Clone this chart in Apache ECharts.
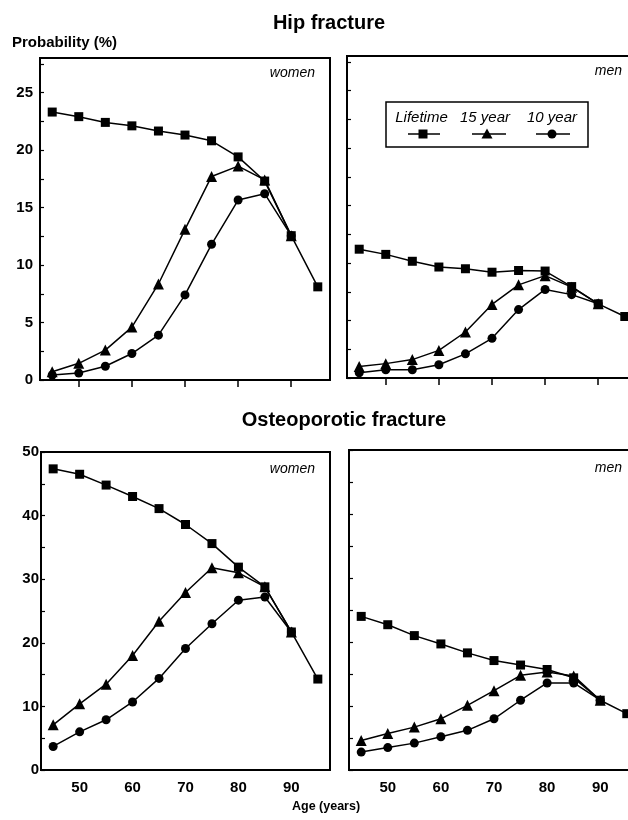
<!DOCTYPE html>
<html>
<head>
<meta charset="utf-8">
<script src="https://cdn.jsdelivr.net/npm/echarts@6/dist/echarts.min.js"></script>
<style>html,body{margin:0;padding:0;background:#fff;}#c{width:628px;height:820px;}</style>
</head>
<body>
<div id="c"></div>
<script>
// ---- data ----
const agesLifetime = [45, 50, 55, 60, 65, 70, 75, 80, 85, 90, 95];
const agesShort = [45, 50, 55, 60, 65, 70, 75, 80, 85, 90];

const hipWomenLifetime = [23.3, 22.9, 22.4, 22.1, 21.65, 21.3, 20.8, 19.4, 17.3, 12.55, 8.1];
const hipWomen15 = [0.72, 1.45, 2.6, 4.6, 8.35, 13.1, 17.7, 18.6, 17.4, 12.55];
const hipWomen10 = [0.43, 0.6, 1.2, 2.3, 3.9, 7.4, 11.8, 15.65, 16.2, 12.55];

const hipMenLifetime = [11.2, 10.75, 10.15, 9.65, 9.5, 9.2, 9.35, 9.3, 7.95, 6.45, 5.35];
const hipMen15 = [1.0, 1.25, 1.6, 2.4, 4.0, 6.4, 8.1, 8.9, 7.9, 6.45];
const hipMen10 = [0.45, 0.72, 0.72, 1.15, 2.1, 3.45, 5.95, 7.7, 7.25, 6.45];

const osteoWomenLifetime = [47.35, 46.5, 44.8, 43.0, 41.1, 38.6, 35.6, 31.9, 28.8, 21.7, 14.3];
const osteoWomen15 = [7.1, 10.4, 13.5, 18.0, 23.4, 27.9, 31.8, 31.0, 28.8, 21.7];
const osteoWomen10 = [3.7, 6.0, 7.9, 10.7, 14.4, 19.1, 23.0, 26.7, 27.2, 21.7];

const osteoMenLifetime = [24.0, 22.7, 21.0, 19.7, 18.3, 17.1, 16.4, 15.7, 14.4, 10.9, 8.8];
const osteoMen15 = [4.6, 5.7, 6.7, 8.0, 10.1, 12.4, 14.8, 15.3, 14.7, 10.9];
const osteoMen10 = [2.8, 3.5, 4.2, 5.2, 6.2, 8.0, 10.9, 13.6, 13.6, 10.9];

const xTickValues = [50, 60, 70, 80, 90];
const hipYLabels = [0, 5, 10, 15, 20, 25];
const hipYTicks = [0, 2.5, 5, 7.5, 10, 12.5, 15, 17.5, 20, 22.5, 25, 27.5];
const osteoYLabels = [0, 10, 20, 30, 40, 50];
const osteoYTicks = [0, 5, 10, 15, 20, 25, 30, 35, 40, 45, 50];

const seriesNames = ['Lifetime', '15 year', '10 year'];

// ---- chart ----
const FONT = '"Liberation Sans", Arial, Helvetica, sans-serif';
const chart = echarts.init(document.getElementById('c'), null, {renderer: 'canvas'});

const grids = [
  {left: 40, top: 58, width: 290, height: 322},
  {left: 347, top: 56, width: 290, height: 322},
  {left: 41, top: 452, width: 289, height: 318},
  {left: 349, top: 450, width: 290, height: 320}
].map(g => Object.assign(g, {show: true, borderColor: '#000', borderWidth: 2, backgroundColor: 'transparent', containLabel: false, outerBoundsMode: 'none'}));

function xAxis(i, top, showLabels) {
  return {
    type: 'value', gridIndex: i, min: 42.7, max: 97.3,
    axisLine: {show: false},
    splitLine: {show: false},
    axisTick: {show: top, customValues: xTickValues, length: 7, lineStyle: {color: '#000', width: 1.5}},
    axisLabel: {show: showLabels, customValues: xTickValues, color: '#000', fontFamily: FONT, fontWeight: 'bold', fontSize: 15, margin: 10}
  };
}
function yAxis(i, max, labels, ticks, showLabels, margin) {
  return {
    type: 'value', gridIndex: i, min: 0, max: max,
    axisLine: {show: false},
    splitLine: {show: false},
    axisTick: {show: true, inside: true, customValues: ticks, length: 4, lineStyle: {color: '#000', width: 1.2}},
    axisLabel: {show: showLabels, customValues: labels, color: '#000', fontFamily: FONT, fontWeight: 'bold', fontSize: 15, margin: margin}
  };
}

function pairs(xs, ys) { return ys.map((v, k) => [xs[k], v]); }
function mk(idx, name, xs, ys, symbol, size) {
  return {
    type: 'line', name: name, xAxisIndex: idx, yAxisIndex: idx,
    data: pairs(xs, ys), symbol: symbol, symbolSize: size, showSymbol: true,
    lineStyle: {color: '#000', width: 1.5}, itemStyle: {color: '#000'},
    emphasis: {disabled: true}, animation: false, clip: true, z: 3
  };
}
const panels = [
  [hipWomenLifetime, hipWomen15, hipWomen10],
  [hipMenLifetime, hipMen15, hipMen10],
  [osteoWomenLifetime, osteoWomen15, osteoWomen10],
  [osteoMenLifetime, osteoMen15, osteoMen10]
];
const series = [];
panels.forEach((p, i) => {
  series.push(mk(i, seriesNames[2], agesShort, p[2], 'circle', 9));
  series.push(mk(i, seriesNames[1], agesShort, p[1], 'triangle', 11));
  series.push(mk(i, seriesNames[0], agesLifetime, p[0], 'rect', 9));
});

function txt(x, y, s, font, align) {
  return {type: 'text', x: x, y: y, silent: true, z: 10,
    style: {text: s, font: font, fill: '#000', textAlign: align || 'left', textVerticalAlign: 'middle'}};
}
const legendY = 134;
const graphic = [
  txt(329, 23, 'Hip fracture', 'bold 20px ' + FONT, 'center'),
  txt(344, 420, 'Osteoporotic fracture', 'bold 20px ' + FONT, 'center'),
  txt(12, 43, 'Probability (%)', 'bold 15px ' + FONT, 'left'),
  txt(292, 807, 'Age (years)', 'bold 12.5px ' + FONT, 'left'),
  txt(315, 73, 'women', 'italic 14px ' + FONT, 'right'),
  txt(622, 71, 'men', 'italic 14px ' + FONT, 'right'),
  txt(315, 469, 'women', 'italic 14px ' + FONT, 'right'),
  txt(622, 468, 'men', 'italic 14px ' + FONT, 'right'),
  // legend box
  {type: 'rect', shape: {x: 386, y: 102, width: 202, height: 45}, z: 10, silent: true,
    style: {fill: '#fff', stroke: '#000', lineWidth: 1.5}},
  txt(421.5, 118, seriesNames[0], 'italic 15px ' + FONT, 'center'),
  txt(485, 118, seriesNames[1], 'italic 15px ' + FONT, 'center'),
  txt(552, 118, seriesNames[2], 'italic 15px ' + FONT, 'center'),
  {type: 'line', shape: {x1: 408, y1: legendY, x2: 440, y2: legendY}, z: 11, style: {stroke: '#000', lineWidth: 1.5}},
  {type: 'line', shape: {x1: 472, y1: legendY, x2: 506, y2: legendY}, z: 11, style: {stroke: '#000', lineWidth: 1.5}},
  {type: 'line', shape: {x1: 536, y1: legendY, x2: 570, y2: legendY}, z: 11, style: {stroke: '#000', lineWidth: 1.5}},
  {type: 'rect', shape: {x: 423 - 4.5, y: legendY - 4.5, width: 9, height: 9}, z: 12, style: {fill: '#000'}},
  {type: 'polygon', shape: {points: [[487, legendY - 5.5], [492.5, legendY + 4.5], [481.5, legendY + 4.5]]}, z: 12, style: {fill: '#000'}},
  {type: 'circle', shape: {cx: 552, cy: legendY, r: 4.5}, z: 12, style: {fill: '#000'}}
];

chart.setOption({
  animation: false,
  backgroundColor: '#fff',
  grid: grids,
  xAxis: [xAxis(0, true, false), xAxis(1, true, false), xAxis(2, false, true), xAxis(3, false, true)],
  yAxis: [
    yAxis(0, 28, hipYLabels, hipYTicks, true, 7),
    yAxis(1, 28, hipYLabels, hipYTicks, false, 7),
    yAxis(2, 50, osteoYLabels, osteoYTicks, true, 2),
    yAxis(3, 50, osteoYLabels, osteoYTicks, false, 2)
  ],
  series: series,
  graphic: graphic
});
</script>
</body>
</html>
